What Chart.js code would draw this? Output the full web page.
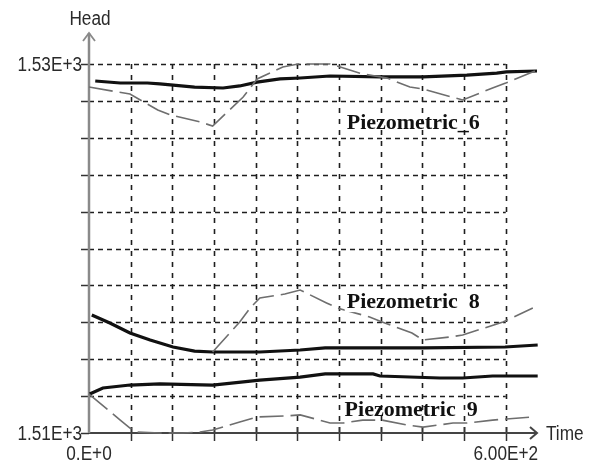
<!DOCTYPE html>
<html>
<head>
<meta charset="utf-8">
<script src="https://cdn.jsdelivr.net/npm/chart.js@4/dist/chart.umd.min.js"></script>
<style>
  html, body { margin: 0; padding: 0; background: #fff; }
  #wrap { width: 598px; height: 468px; }
</style>
</head>
<body>
<div id="wrap"><canvas id="head-chart" width="598" height="468"></canvas></div>
<script>
// Piezometric heads over time (solid = computed, dashed = observed)
const p6SolidTime = [9, 45, 84, 102, 152, 193, 217, 242, 275, 304, 347, 419, 481, 544, 587, 601, 645];
const p6SolidHead = [1529.08, 1528.97, 1528.97, 1528.92, 1528.75, 1528.70, 1528.81, 1529.02, 1529.19, 1529.24, 1529.35, 1529.30, 1529.30, 1529.40, 1529.51, 1529.57, 1529.62];
const p6DashTime = [0, 42, 59, 99, 117, 160, 178, 222, 242, 279, 301, 347, 357, 394, 429, 462, 481, 522, 538, 581, 600, 642];
const p6DashHead = [1528.75, 1528.48, 1528.37, 1527.51, 1527.24, 1526.86, 1526.64, 1528.21, 1529.19, 1529.84, 1530.0, 1530.0, 1529.89, 1529.46, 1529.24, 1528.75, 1528.64, 1528.21, 1528.05, 1528.70, 1528.97, 1529.62];

const p8SolidTime = [4, 30, 59, 88, 121, 152, 178, 246, 304, 340, 481, 599, 646];
const p8SolidHead = [1516.40, 1515.96, 1515.42, 1515.04, 1514.66, 1514.44, 1514.39, 1514.39, 1514.50, 1514.61, 1514.61, 1514.66, 1514.77];
const p8DashTime = [178, 217, 232, 246, 282, 304, 342, 358, 404, 422, 465, 481, 519, 538, 596, 639];
const p8DashHead = [1514.39, 1516.02, 1516.77, 1517.32, 1517.53, 1517.75, 1517.05, 1516.77, 1516.29, 1516.02, 1515.42, 1515.04, 1515.20, 1515.31, 1516.02, 1516.77];

const p9SolidTime = [1, 20, 59, 102, 178, 246, 304, 340, 409, 419, 505, 538, 581, 646];
const p9SolidHead = [1512.11, 1512.44, 1512.60, 1512.66, 1512.60, 1512.87, 1513.03, 1513.20, 1513.20, 1513.09, 1512.98, 1512.98, 1513.09, 1513.09];
const p9DashTime = [0, 45, 59, 69, 102, 135, 160, 178, 217, 242, 282, 304, 332, 347, 366, 394, 422, 458, 481, 524, 544, 581, 601, 639];
const p9DashHead = [1512.11, 1510.70, 1510.27, 1510.05, 1510.0, 1510.0, 1510.05, 1510.16, 1510.60, 1510.87, 1510.92, 1510.98, 1510.70, 1510.54, 1510.54, 1510.70, 1510.70, 1510.43, 1510.32, 1510.54, 1510.54, 1510.70, 1510.76, 1510.87];

// grid and axis ticks
const gridTimes = [60, 120, 180, 240, 300, 360, 420, 480, 540, 600];
const gridHeads = [1512, 1514, 1516, 1518, 1520, 1522, 1524, 1526, 1528, 1530];
const xTickValues = [0, 600];
const xTickLabels = ['0.E+0', '6.00E+2'];
const yTickValues = [1510, 1530];
const yTickLabels = ['1.51E+3', '1.53E+3'];

// curve captions: [text, time, head]
const captionText = ['Piezometric_6', 'Piezometric  8', 'Piezometric  9'];
const captionTime = [371, 371, 368];
const captionHead = [1526.46, 1516.77, 1510.92];

function pts(ts, hs) {
  return ts.map((t, i) => ({ x: t, y: hs[i] }));
}

function solidSet(ts, hs) {
  return {
    data: pts(ts, hs),
    borderColor: '#111',
    borderWidth: 3.2,
    pointRadius: 0,
    tension: 0,
    clip: false,
  };
}

function dashSet(ts, hs) {
  return {
    data: pts(ts, hs),
    borderColor: '#6e6e6e',
    borderWidth: 1.6,
    borderDash: [24, 7],
    pointRadius: 0,
    tension: 0,
    clip: false,
  };
}

const AXIS_FONT = '20px "Liberation Sans", Arial, sans-serif';
const SQUEEZE = 0.86;

// narrow axis text: draw horizontally squeezed
function axisText(ctx, txt, px, py, align) {
  ctx.save();
  ctx.translate(px, py);
  ctx.scale(SQUEEZE, 1);
  ctx.textAlign = align;
  ctx.fillText(txt, 0, 0);
  ctx.restore();
}

const decor = {
  id: 'decor',
  beforeDatasetsDraw(chart) {
    const { ctx, scales: { x, y } } = chart;
    const left = x.getPixelForValue(0);
    const gridRight = x.getPixelForValue(600);
    const bottom = y.getPixelForValue(1510);
    const top = y.getPixelForValue(1530);
    ctx.save();

    // dashed grid, stops at the last labelled time
    ctx.strokeStyle = '#1e1e1e';
    ctx.lineWidth = 1.6;
    ctx.setLineDash([5, 4]);
    gridHeads.forEach((v) => {
      const py = Math.round(y.getPixelForValue(v)) + 0.5;
      ctx.beginPath();
      ctx.moveTo(left, py);
      ctx.lineTo(gridRight, py);
      ctx.stroke();
    });
    ctx.setLineDash([5, 6]);
    gridTimes.forEach((t) => {
      const px = Math.round(x.getPixelForValue(t)) + 0.5;
      ctx.beginPath();
      ctx.moveTo(px, top);
      ctx.lineTo(px, bottom);
      ctx.stroke();
    });
    ctx.setLineDash([]);

    // tick marks
    ctx.strokeStyle = '#333';
    ctx.lineWidth = 1.5;
    [1510].concat(gridHeads).forEach((v) => {
      const py = Math.round(y.getPixelForValue(v)) + 0.5;
      ctx.beginPath();
      ctx.moveTo(left - 8, py);
      ctx.lineTo(left, py);
      ctx.stroke();
    });
    gridTimes.forEach((t) => {
      const px = Math.round(x.getPixelForValue(t)) + 0.5;
      ctx.beginPath();
      ctx.moveTo(px, bottom - 6);
      ctx.lineTo(px, bottom + 8);
      ctx.stroke();
    });

    // x axis with arrow
    const right = chart.chartArea.right;
    ctx.strokeStyle = '#444';
    ctx.lineWidth = 2;
    ctx.beginPath();
    ctx.moveTo(left, bottom);
    ctx.lineTo(right, bottom);
    ctx.moveTo(right - 7, bottom - 6);
    ctx.lineTo(right, bottom);
    ctx.lineTo(right - 7, bottom + 6);
    ctx.stroke();

    // y axis with arrow
    const yTop = top - 31;
    ctx.strokeStyle = '#8a8a8a';
    ctx.lineWidth = 2.5;
    ctx.beginPath();
    ctx.moveTo(left, bottom);
    ctx.lineTo(left, yTop);
    ctx.stroke();
    ctx.lineWidth = 1.8;
    ctx.beginPath();
    ctx.moveTo(left - 6, yTop + 8);
    ctx.lineTo(left, yTop);
    ctx.lineTo(left + 6, yTop + 8);
    ctx.stroke();

    // tick labels and axis titles
    ctx.fillStyle = '#2a2a2a';
    ctx.font = AXIS_FONT;
    ctx.textBaseline = 'middle';
    yTickValues.forEach((v, i) => {
      axisText(ctx, yTickLabels[i], left - 7, y.getPixelForValue(v) + 1, 'right');
    });
    xTickValues.forEach((t, i) => {
      axisText(ctx, xTickLabels[i], x.getPixelForValue(t), bottom + 21, 'center');
    });
    axisText(ctx, 'Head', left + 1, yTop - 14, 'center');
    axisText(ctx, 'Time', right + 9, bottom + 1, 'left');
    ctx.restore();
  },
  afterDatasetsDraw(chart) {
    const { ctx, scales: { x, y } } = chart;
    ctx.save();
    ctx.font = 'bold 22px "Liberation Serif", "Times New Roman", serif';
    ctx.textBaseline = 'alphabetic';
    ctx.textAlign = 'left';
    captionText.forEach((txt, i) => {
      const px = x.getPixelForValue(captionTime[i]);
      const py = y.getPixelForValue(captionHead[i]);
      if (i === 1) {
        const w = ctx.measureText(txt).width;
        ctx.fillStyle = '#fff';
        ctx.fillRect(px - 2, py - 17, w + 4, 21);
      }
      ctx.fillStyle = '#111';
      ctx.fillText(txt, px, py);
    });
    ctx.restore();
  },
};

new Chart(document.getElementById('head-chart'), {
  type: 'line',
  data: {
    datasets: [
      dashSet(p6DashTime, p6DashHead),
      solidSet(p6SolidTime, p6SolidHead),
      dashSet(p8DashTime, p8DashHead),
      solidSet(p8SolidTime, p8SolidHead),
      dashSet(p9DashTime, p9DashHead),
      solidSet(p9SolidTime, p9SolidHead),
    ],
  },
  options: {
    responsive: false,
    animation: false,
    devicePixelRatio: 1,
    layout: { padding: { left: 89, right: 61, top: 64, bottom: 35 } },
    plugins: { legend: { display: false }, tooltip: { enabled: false } },
    scales: {
      x: { type: 'linear', min: 0, max: 645, display: false },
      y: { type: 'linear', min: 1510, max: 1530, display: false },
    },
  },
  plugins: [decor],
});
</script>
</body>
</html>
